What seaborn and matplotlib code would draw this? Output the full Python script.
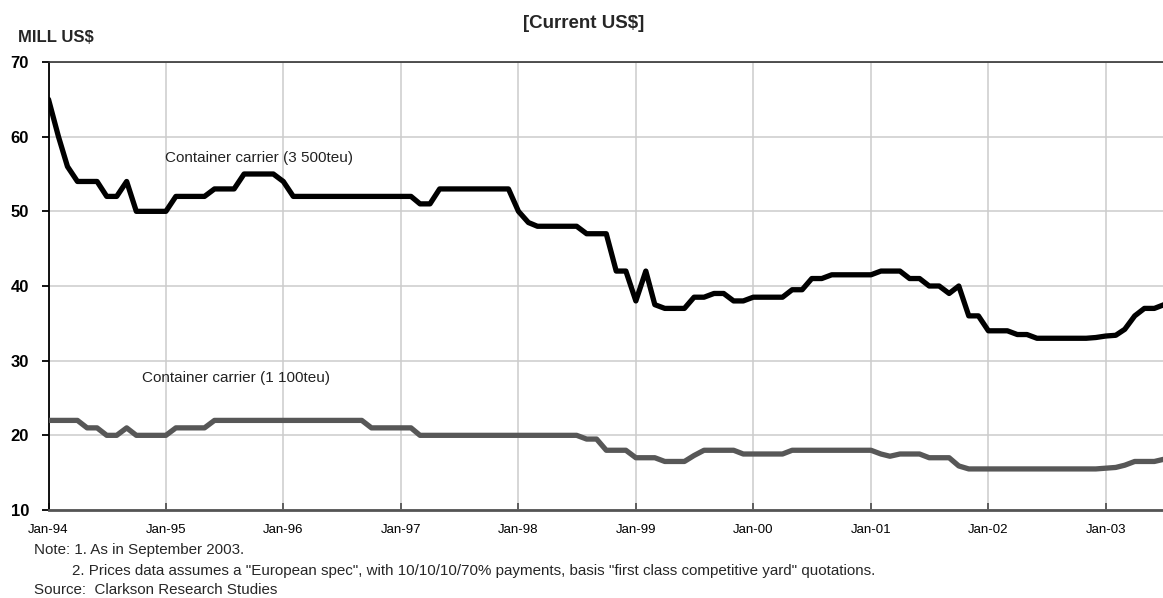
import numpy as np
import pandas as pd
import matplotlib
matplotlib.use("Agg")
import matplotlib.pyplot as plt
import seaborn as sns

# ---------------- data ----------------
months = pd.date_range("1994-01-01", "2003-07-01", freq="MS")

teu3500 = [
    65, 60, 56, 54, 54, 54, 52, 52, 54, 50, 50, 50,            # 1994
    50, 52, 52, 52, 52, 53, 53, 53, 55, 55, 55, 55,            # 1995
    54, 52, 52, 52, 52, 52, 52, 52, 52, 52, 52, 52,            # 1996
    52, 52, 51, 51, 53, 53, 53, 53, 53, 53, 53, 53,            # 1997
    50, 48.5, 48, 48, 48, 48, 48, 47, 47, 47, 42, 42,          # 1998
    38, 42, 37.5, 37, 37, 37, 38.5, 38.5, 39, 39, 38, 38,      # 1999
    38.5, 38.5, 38.5, 38.5, 39.5, 39.5, 41, 41, 41.5, 41.5, 41.5, 41.5,  # 2000
    41.5, 42, 42, 42, 41, 41, 40, 40, 39, 40, 36, 36,          # 2001
    34, 34, 34, 33.5, 33.5, 33, 33, 33, 33, 33, 33, 33.1,      # 2002
    33.3, 33.4, 34.2, 36, 37, 37, 37.5,                        # 2003
]

teu1100 = [
    22, 22, 22, 22, 21, 21, 20, 20, 21, 20, 20, 20,            # 1994
    20, 21, 21, 21, 21, 22, 22, 22, 22, 22, 22, 22,            # 1995
    22, 22, 22, 22, 22, 22, 22, 22, 22, 21, 21, 21,            # 1996
    21, 21, 20, 20, 20, 20, 20, 20, 20, 20, 20, 20,            # 1997
    20, 20, 20, 20, 20, 20, 20, 19.5, 19.5, 18, 18, 18,        # 1998
    17, 17, 17, 16.5, 16.5, 16.5, 17.3, 18, 18, 18, 18, 17.5,  # 1999
    17.5, 17.5, 17.5, 17.5, 18, 18, 18, 18, 18, 18, 18, 18,    # 2000
    18, 17.5, 17.2, 17.5, 17.5, 17.5, 17, 17, 17, 15.9, 15.5, 15.5,  # 2001
    15.5, 15.5, 15.5, 15.5, 15.5, 15.5, 15.5, 15.5, 15.5, 15.5, 15.5, 15.5,  # 2002
    15.6, 15.7, 16.0, 16.5, 16.5, 16.5, 16.8,                  # 2003
]

tick_dates = pd.to_datetime([f"{y}-01-01" for y in range(1994, 2004)])
tick_labels = ["Jan-94", "Jan-95", "Jan-96", "Jan-97", "Jan-98",
               "Jan-99", "Jan-00", "Jan-01", "Jan-02", "Jan-03"]
y_ticks = [10, 20, 30, 40, 50, 60, 70]

label_3500 = "Container carrier (3 500teu)"
label_1100 = "Container carrier (1 100teu)"

df = pd.DataFrame({"month": months, "teu3500": teu3500, "teu1100": teu1100})

# ---------------- style ----------------
sns.set_theme(style="white")
plt.rcParams["font.family"] = ["Liberation Sans", "DejaVu Sans"]

W, H = 1163, 598
fig = plt.figure(figsize=(W / 100, H / 100), dpi=100)
ax = fig.add_axes([48.5 / W, (H - 510) / H, 1115.5 / W, 448 / H])

sns.lineplot(data=df, x="month", y="teu1100", color="#575757", lw=3.8, ax=ax, zorder=3)
sns.lineplot(data=df, x="month", y="teu3500", color="black", lw=3.8, ax=ax, zorder=4)

ax.set_xlim(months[0], months[-1])
ax.set_ylim(10, 70)
ax.set_xticks(tick_dates)
ax.set_xticklabels(tick_labels)
ax.set_yticks(y_ticks)
ax.set_yticklabels([str(v) for v in y_ticks], fontweight="bold")
ax.set_xlabel("")
ax.set_ylabel("")

ax.grid(True, color="#cccccc", lw=1.1, zorder=0)
ax.set_axisbelow(True)

ax.spines["left"].set_color("black")
ax.spines["left"].set_linewidth(1.3)
ax.spines["bottom"].set_color("#555555")
ax.spines["bottom"].set_linewidth(2.0)
ax.spines["top"].set_color("#333333")
ax.spines["top"].set_linewidth(1.2)
ax.spines["right"].set_visible(False)

ax.tick_params(axis="y", direction="out", length=5, width=1.3, color="black",
               labelsize=12, pad=9, left=True, labelcolor="black")
ax.tick_params(axis="x", direction="in", length=5, width=1.3, color="#555555",
               labelsize=9.5, pad=10, bottom=True, labelcolor="black")

# line labels
ax.text(0.1044, 0.7857, label_3500, transform=ax.transAxes, fontsize=11,
        color="#222222", va="center", ha="left")
ax.text(0.0835, 0.2946, label_1100, transform=ax.transAxes, fontsize=11,
        color="#222222", va="center", ha="left")

# titles and notes
fig.text(584 / W, 1 - 23 / H, "[Current US$]", fontsize=13.5, fontweight="bold",
         ha="center", va="center")
fig.text(18 / W, 1 - 38 / H, "MILL US$", fontsize=12, fontweight="bold",
         ha="left", va="center")
fig.text(34.4 / W, 1 - 550 / H, "Note: 1. As in September 2003.", fontsize=10.9,
         ha="left", va="center")
fig.text(71.6 / W, 1 - 571.5 / H,
         '2. Prices data assumes a "European spec", with 10/10/10/70% payments, '
         'basis "first class competitive yard" quotations.',
         fontsize=10.9, ha="left", va="center")
fig.text(34.4 / W, 1 - 590 / H, "Source:  Clarkson Research Studies", fontsize=10.9,
         ha="left", va="center")

fig.savefig("out.png", dpi=100)
